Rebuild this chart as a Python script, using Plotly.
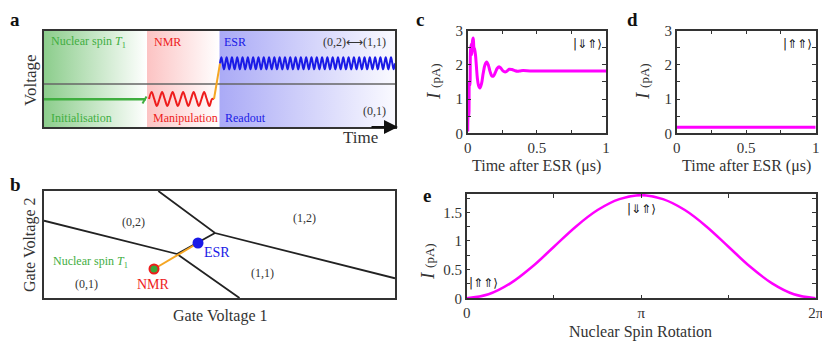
import plotly.graph_objects as go

# ---- data ----
# panel a: pulse schematic (time / voltage in box units)
stage_edges = [0, 103, 175.5, 351]          # initialisation | manipulation | readout
init_level = 27.7
nmr_level = 28.0
esr_level = 63.7
boundary_level = 43
nmr_amp = 7
esr_amp = 6
nmr_cycles = 6
esr_cycles = 33
wave_cycle = [0, 1, 0, -1]

# panel b: charge stability diagram (gate voltage box units)
line_a_x = [0, 133, 195.5]
line_a_y = [77.3, 44, 0]
line_b_x = [114.3, 171, 351]
line_b_y = [107, 65, 19.7]
inter_x = [133, 171]
inter_y = [44, 65]
nmr_pt = (110, 29)
esr_pt = (154, 55)

# panel c: current after ESR, |⇓⇑>
t_c = [0, 0.004, 0.008, 0.012, 0.016, 0.02, 0.025, 0.03, 0.035, 0.04, 0.045, 0.05,
       0.056, 0.063, 0.07, 0.078, 0.088, 0.1, 0.112, 0.125, 0.137, 0.15, 0.162,
       0.174, 0.186, 0.2, 0.214, 0.227, 0.24, 0.255, 0.27, 0.285, 0.3, 0.32, 0.34,
       0.36, 0.38, 0.4, 0.45, 0.5, 0.6, 0.7, 0.8, 0.9, 1.0]
i_c = [0.05, 0.6, 0.5, 1.5, 1.4, 2.4, 2.6, 2.3, 2.7, 2.78, 2.5, 2.45,
       2.3, 1.95, 1.6, 1.4, 1.32, 1.45, 1.75, 2.0, 2.08, 1.98, 1.8,
       1.68, 1.67, 1.78, 1.9, 1.94, 1.9, 1.82, 1.79, 1.82, 1.87, 1.86, 1.83,
       1.81, 1.82, 1.83, 1.82, 1.82, 1.82, 1.82, 1.82, 1.82, 1.82]

# panel d: current after ESR, |⇑⇑>
t_d = [0, 1]
i_d = [0.18, 0.18]

# panel e: current vs nuclear spin rotation (in units of pi)
rot = [0, 0.125, 0.25, 0.375, 0.5, 0.625, 0.75, 0.875, 1,
       1.125, 1.25, 1.375, 1.5, 1.625, 1.75, 1.875, 2]
i_e = [0, 0.07, 0.26, 0.55, 0.9, 1.25, 1.54, 1.73, 1.8,
       1.73, 1.54, 1.25, 0.9, 0.55, 0.26, 0.07, 0]

# page body has an 8px margin, so the figure is drawn a bit smaller and offset
OFF = 8
W, H = 830 - 2 * OFF, 349 - 2 * OFF
FONT = "Liberation Serif"
GREEN = "#3fae3f"
RED = "#ee1c1c"
BLUE = "#1a1ae6"
ORANGE = "#f5a623"
MAG = "#ff00ff"
DARK = "#333333"


def X(px):
    return (px - OFF) / W


def Y(py):
    return 1 - (py - OFF) / H


def wave(x0, x1, level, amp, n):
    ys = wave_cycle * n + [0]
    k = len(ys) - 1
    xs = [x0 + (x1 - x0) * j / k for j in range(k + 1)]
    return xs, [level + amp * v for v in ys]


fig = go.Figure()

# ---- panel a ----
grads = [
    ("rgb(140,205,140)", "rgb(255,255,255)"),
    ("rgb(252,195,195)", "rgb(255,255,255)"),
    ("rgb(170,170,246)", "rgb(250,250,255)"),
]
for s in range(3):
    x0, x1 = stage_edges[s], stage_edges[s + 1]
    fig.add_trace(go.Scatter(
        x=[x0, x1, x1, x0, x0], y=[0, 0, 96, 96, 0], mode="lines",
        fill="toself", line=dict(width=0),
        fillgradient=dict(type="horizontal", colorscale=[[0, grads[s][0]], [1, grads[s][1]]]),
        hoverinfo="skip", xaxis="x", yaxis="y"))

fig.add_trace(go.Scatter(x=[0, 351], y=[boundary_level, boundary_level], mode="lines",
                         line=dict(color="#666", width=1.5), xaxis="x", yaxis="y"))
fig.add_trace(go.Scatter(x=[0, 102], y=[init_level, init_level], mode="lines",
                         line=dict(color=GREEN, width=2.5), xaxis="x", yaxis="y"))
fig.add_trace(go.Scatter(x=[98.5, 102.5], y=[23.5, 30.5], mode="lines",
                         line=dict(color=GREEN, width=2), xaxis="x", yaxis="y"))
wx, wy = wave(105, 168, nmr_level, nmr_amp, nmr_cycles)
fig.add_trace(go.Scatter(x=wx + [170], y=wy + [nmr_level], mode="lines", line_shape="spline",
                         line=dict(color=RED, width=2), xaxis="x", yaxis="y"))
fig.add_trace(go.Scatter(x=[170, 176], y=[nmr_level, esr_level], mode="lines",
                         line=dict(color=ORANGE, width=2), xaxis="x", yaxis="y"))
wx, wy = wave(176, 351, esr_level, esr_amp, esr_cycles)
fig.add_trace(go.Scatter(x=wx, y=wy, mode="lines", line_shape="spline",
                         line=dict(color=BLUE, width=2), xaxis="x", yaxis="y"))

# ---- panel b ----
for xs, ys in [(line_a_x, line_a_y), (line_b_x, line_b_y), (inter_x, inter_y)]:
    fig.add_trace(go.Scatter(x=xs, y=ys, mode="lines", line=dict(color="#222", width=1.8),
                             xaxis="x2", yaxis="y2"))
fig.add_trace(go.Scatter(x=[nmr_pt[0], esr_pt[0]], y=[nmr_pt[1], esr_pt[1]], mode="lines",
                         line=dict(color=ORANGE, width=2), xaxis="x2", yaxis="y2"))
fig.add_trace(go.Scatter(x=[nmr_pt[0]], y=[nmr_pt[1]], mode="markers",
                         marker=dict(color="#3aa83a", size=9, line=dict(color=RED, width=2)),
                         xaxis="x2", yaxis="y2"))
fig.add_trace(go.Scatter(x=[esr_pt[0]], y=[esr_pt[1]], mode="markers",
                         marker=dict(color=BLUE, size=11), xaxis="x2", yaxis="y2"))

# ---- panels c, d, e ----
fig.add_trace(go.Scatter(x=t_c, y=i_c, mode="lines", line_shape="spline",
                         line=dict(color=MAG, width=3), xaxis="x3", yaxis="y3"))
fig.add_trace(go.Scatter(x=t_d, y=i_d, mode="lines",
                         line=dict(color=MAG, width=3), xaxis="x4", yaxis="y4"))
fig.add_trace(go.Scatter(x=rot, y=i_e, mode="lines", line_shape="spline",
                         line=dict(color=MAG, width=2.5), xaxis="x5", yaxis="y5"))


def box_axis(dom, rng, anchor, lw=2):
    return dict(domain=dom, range=rng, anchor=anchor, showline=True, mirror=True,
                linecolor=DARK, linewidth=lw, showgrid=False, zeroline=False,
                showticklabels=False, ticks="", automargin=False)


def tick_axis(dom, rng, anchor, **kw):
    d = dict(domain=dom, range=rng, anchor=anchor, showline=True, mirror="ticks",
             linecolor=DARK, linewidth=1.5, showgrid=False, zeroline=False,
             ticks="inside", ticklen=4, tickcolor=DARK, automargin=False,
             ticklabeloverflow="allow",
             tickfont=dict(family=FONT, size=15, color=DARK))
    d.update(kw)
    return d


ax_a = [X(44), X(395)]
ay_a = [Y(127), Y(31)]
ay_b = [Y(298), Y(191)]
ax_c = [X(467.7), X(606)]
ay_cd = [Y(133.3), Y(30.5)]
ax_d = [X(676.7), X(815.7)]
ax_e = [X(466.7), X(815.7)]
ay_e = [Y(298.3), Y(194)]

minor = lambda dt: dict(ticks="inside", ticklen=4, dtick=dt, tickcolor=DARK, showgrid=False)

fig.update_layout(
    width=W, height=H, margin=dict(l=0, r=0, t=0, b=0, autoexpand=False),
    paper_bgcolor="white", plot_bgcolor="rgba(0,0,0,0)", showlegend=False,
    xaxis=box_axis(ax_a, [0, 351], "y"),
    yaxis=box_axis(ay_a, [0, 96], "x"),
    xaxis2=box_axis(ax_a, [0, 351], "y2"),
    yaxis2=box_axis(ay_b, [0, 107], "x2"),
    xaxis3=tick_axis(ax_c, [0, 1], "y3", dtick=0.5, minor=minor(0.25)),
    yaxis3=tick_axis(ay_cd, [0, 3], "x3", dtick=1, minor=minor(0.5)),
    xaxis4=tick_axis(ax_d, [0, 1], "y4", dtick=0.5, minor=minor(0.25)),
    yaxis4=tick_axis(ay_cd, [0, 3], "x4", dtick=1, minor=minor(0.5)),
    xaxis5=tick_axis(ax_e, [0, 2], "y5", tickmode="array", tickvals=[0, 1, 2],
                     ticktext=["0", "π", "2π"],
                     minor=dict(ticks="inside", ticklen=4, tickvals=[0.5, 1.5], tickcolor=DARK)),
    yaxis5=tick_axis(ay_e, [0, 1.82], "x5", dtick=0.5, minor=minor(0.25)),
)

ann = []


def txt(x, y, s, size=12, color=DARK, xanchor="center", ref="paper", xr="x", yr="y", family=FONT, **kw):
    a = dict(x=x, y=y, text=s, showarrow=False, xanchor=xanchor, yanchor="middle",
             font=dict(family=family, size=size, color=color))
    if ref == "paper":
        a.update(xref="paper", yref="paper")
    else:
        a.update(xref=xr, yref=yr)
    a.update(kw)
    ann.append(a)


# panel labels
txt(0, Y(19), "<b>a</b>", size=19, color="#111", xanchor="left")
txt(0, Y(184), "<b>b</b>", size=19, color="#111", xanchor="left")
for lab, px, py in [("c", 420, 19), ("d", 632, 19), ("e", 427, 195)]:
    txt(X(px), Y(py), "<b>" + lab + "</b>", size=19, color="#111")

# panel a texts
txt(5, 85, "Nuclear spin <i>T</i><sub>1</sub>", color=GREEN, xanchor="left", ref="data")
txt(108, 85, "NMR", color=RED, xanchor="left", ref="data")
txt(178, 85, "ESR", color=BLUE, xanchor="left", ref="data")
txt(344, 85, "(0,2)⟷(1,1)", xanchor="right", ref="data")
txt(344, 16, "(0,1)", xanchor="right", ref="data")
txt(5, 9, "Initialisation", color=GREEN, xanchor="left", ref="data")
txt(107, 9, "Manipulation", color=RED, xanchor="left", ref="data")
txt(179, 9, "Readout", color=BLUE, xanchor="left", ref="data")
txt(X(30), Y(80), "Voltage", size=17, textangle=-90)
txt(X(360), Y(137.5), "Time", size=17)
ann.append(dict(x=X(398), y=Y(127), xref="paper", yref="paper", ax=-28, ay=0,
                showarrow=True, arrowhead=2, arrowsize=1.4, arrowwidth=2, arrowcolor="#111", text=""))

# panel b texts
for s, x, y, c in [("(0,2)", 89, 76, DARK), ("(1,2)", 260, 80, DARK), ("(1,1)", 218, 25, DARK),
                   ("(0,1)", 42, 14, DARK), ("Nuclear spin <i>T</i><sub>1</sub>", 46, 36, GREEN)]:
    txt(x, y, s, color=c, ref="data", xr="x2", yr="y2")
txt(109, 14, "NMR", size=14, color=RED, ref="data", xr="x2", yr="y2")
txt(173, 46, "ESR", size=14, color=BLUE, ref="data", xr="x2", yr="y2")
txt(X(30), Y(245), "Gate Voltage 2", size=16, textangle=-90)
txt(X(220), Y(316), "Gate Voltage 1", size=16)

# panels c, d, e texts
ylab = "<i>I</i> <span style='font-size:13px'>(pA)</span>"
txt(X(433), Y(82), ylab, size=19, textangle=-90)
txt(X(642), Y(82), ylab, size=19, textangle=-90)
txt(X(427), Y(262), ylab, size=19, textangle=-90)
txt(X(536.5), Y(166), "Time after ESR (μs)", size=16)
txt(X(746), Y(166), "Time after ESR (μs)", size=16)
txt(X(640), Y(332), "Nuclear Spin Rotation", size=16)
KF = "DejaVu Sans"
txt(X(587), Y(44), "|⇓⇑⟩", size=12, color="#111", family=KF)
txt(X(797), Y(44), "|⇑⇑⟩", size=12, color="#111", family=KF)
txt(X(641), Y(209), "|⇓⇑⟩", size=12, color="#111", family=KF)
txt(X(484), Y(283), "|⇑⇑⟩", size=12, color="#111", family=KF)

fig.update_layout(annotations=ann)
fig.write_html("out.html")
